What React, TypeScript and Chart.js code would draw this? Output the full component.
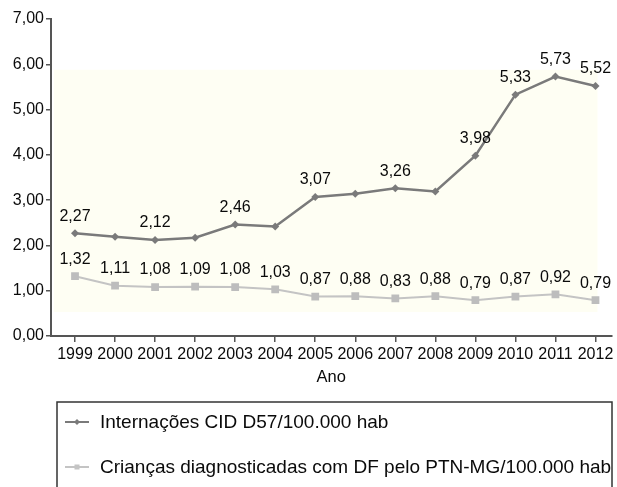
import React, { useEffect, useRef } from "react";
import { Chart, registerables } from "chart.js";

Chart.register(...registerables);

const years = ["1999", "2000", "2001", "2002", "2003", "2004", "2005", "2006", "2007", "2008", "2009", "2010", "2011", "2012"];
const internacoes = [2.27, 2.19, 2.12, 2.17, 2.46, 2.42, 3.07, 3.14, 3.26, 3.19, 3.98, 5.33, 5.73, 5.52];
const internacoesShowLabel = [true, false, true, false, true, false, true, false, true, false, true, true, true, true];
const criancas = [1.32, 1.11, 1.08, 1.09, 1.08, 1.03, 0.87, 0.88, 0.83, 0.88, 0.79, 0.87, 0.92, 0.79];
const criancasShowLabel = criancas.map(() => true);
const seriesNames = ["Internações CID D57/100.000 hab", "Crianças diagnosticadas com DF pelo PTN-MG/100.000 hab"];
const yMin = 0;
const yMax = 7;
const xAxisTitle = "Ano";

const FONT = "'Liberation Sans', Arial, Helvetica, sans-serif";
const TEXT = "#0a0a0a";
const fmt = (v: number) => v.toFixed(2).replace(".", ",");

const shadePlugin = {
  id: "shade",
  beforeDatasetsDraw(chart: any) {
    const { ctx, scales } = chart;
    const x = scales.x, y = scales.y;
    const l = x.getPixelForValue(-0.53), r = x.getPixelForValue(13.05);
    const t = y.getPixelForValue(5.88), b = y.getPixelForValue(0.53);
    ctx.save();
    ctx.fillStyle = "#fefef3";
    ctx.fillRect(l, t, r - l, b - t);
    ctx.restore();
  },
};

const labelPlugin = {
  id: "valueLabels",
  afterDatasetsDraw(chart: any) {
    const { ctx } = chart;
    const flags = [internacoesShowLabel, criancasShowLabel];
    ctx.save();
    ctx.font = `16px ${FONT}`;
    ctx.fillStyle = TEXT;
    ctx.textAlign = "center";
    ctx.textBaseline = "middle";
    chart.data.datasets.forEach((ds: any, di: number) => {
      const meta = chart.getDatasetMeta(di);
      meta.data.forEach((el: any, i: number) => {
        if (!flags[di][i]) return;
        ctx.fillText(fmt(ds.data[i].y), el.x, el.y - 17);
      });
    });
    ctx.restore();
  },
};

const legendPlugin = {
  id: "boxLegend",
  afterDraw(chart: any) {
    const { ctx, chartArea } = chart;
    const left = chartArea.left + 6;
    const top = 402;
    ctx.save();
    ctx.strokeStyle = "#333";
    ctx.lineWidth = 1.5;
    ctx.strokeRect(left, top, 612 - left, 120);
    const items = [
      { color: "#7a7a7a", style: "rectRot" },
      { color: "#c4c4c4", style: "rect" },
    ];
    items.forEach((it, i) => {
      const cy = top + 20 + i * 45;
      ctx.strokeStyle = it.color;
      ctx.lineWidth = 2;
      ctx.beginPath();
      ctx.moveTo(left + 8, cy);
      ctx.lineTo(left + 32, cy);
      ctx.stroke();
      ctx.fillStyle = it.color;
      const cx = left + 20;
      ctx.beginPath();
      if (it.style === "rect") {
        ctx.fillRect(cx - 2.5, cy - 2.5, 5, 5);
      } else {
        ctx.moveTo(cx, cy - 3);
        ctx.lineTo(cx + 3, cy);
        ctx.lineTo(cx, cy + 3);
        ctx.lineTo(cx - 3, cy);
        ctx.closePath();
        ctx.fill();
      }
      ctx.fillStyle = TEXT;
      ctx.font = `19px ${FONT}`;
      ctx.textAlign = "left";
      ctx.textBaseline = "middle";
      ctx.fillText(seriesNames[i], left + 43, cy + 1);
    });
    ctx.restore();
  },
};

export default function App() {
  const ref = useRef<HTMLCanvasElement>(null);
  useEffect(() => {
    if (!ref.current) return;
    const chart = new Chart(ref.current, {
      type: "line",
      data: {
        datasets: [
          {
            label: seriesNames[0],
            data: internacoes.map((v, i) => ({ x: i, y: v })),
            borderColor: "#7a7a7a",
            backgroundColor: "#7a7a7a",
            borderWidth: 2.5,
            pointStyle: "rectRot",
            pointRadius: 4,
            pointBorderWidth: 0,
            tension: 0,
          },
          {
            label: seriesNames[1],
            data: criancas.map((v, i) => ({ x: i, y: v })),
            borderColor: "#c4c4c4",
            backgroundColor: "#bdbdbd",
            borderWidth: 2,
            pointStyle: "rect",
            pointRadius: 5.5,
            pointBorderWidth: 0,
            tension: 0,
          },
        ],
      },
      options: {
        responsive: false,
        animation: false,
        devicePixelRatio: 1,
        layout: { padding: { top: 19, right: 0, bottom: 97, left: 0 } },
        plugins: { legend: { display: false }, tooltip: { enabled: false } },
        scales: {
          x: {
            type: "linear",
            min: -0.6,
            max: 13.4,
            afterBuildTicks: (s: any) => {
              s.ticks = years.map((_, i) => ({ value: i }));
            },
            afterFit: (s: any) => {
              s.height = 54;
            },
            ticks: {
              callback: (v: any) => years[Math.round(Number(v))] ?? "",
              font: { family: FONT, size: 16 },
              color: TEXT,
              padding: 3,
              maxRotation: 0,
              autoSkip: false,
            },
            grid: { display: true, drawOnChartArea: false, drawTicks: true, tickLength: 6, color: "#555", lineWidth: 1.5 },
            border: { display: true, color: "#555", width: 2 },
            title: { display: true, text: xAxisTitle, font: { family: FONT, size: 16.5 }, color: TEXT, padding: { top: 4, bottom: 3 } },
          },
          y: {
            min: yMin,
            max: yMax,
            afterFit: (s: any) => {
              s.width = 51;
            },
            ticks: {
              stepSize: 1,
              callback: (v: any) => fmt(Number(v)),
              font: { family: FONT, size: 16 },
              color: TEXT,
              padding: 2,
            },
            grid: { display: true, drawOnChartArea: false, drawTicks: true, tickLength: 5, color: "#555", lineWidth: 1.5 },
            border: { display: true, color: "#555", width: 2 },
          },
        },
      },
      plugins: [shadePlugin, labelPlugin, legendPlugin],
    });
    return () => chart.destroy();
  }, []);
  return (
    <div style={{ position: "fixed", left: 0, top: 0, width: 617, height: 487, background: "#fff", overflow: "hidden" }}>
      <canvas ref={ref} width={617} height={487} style={{ display: "block" }} />
    </div>
  );
}
